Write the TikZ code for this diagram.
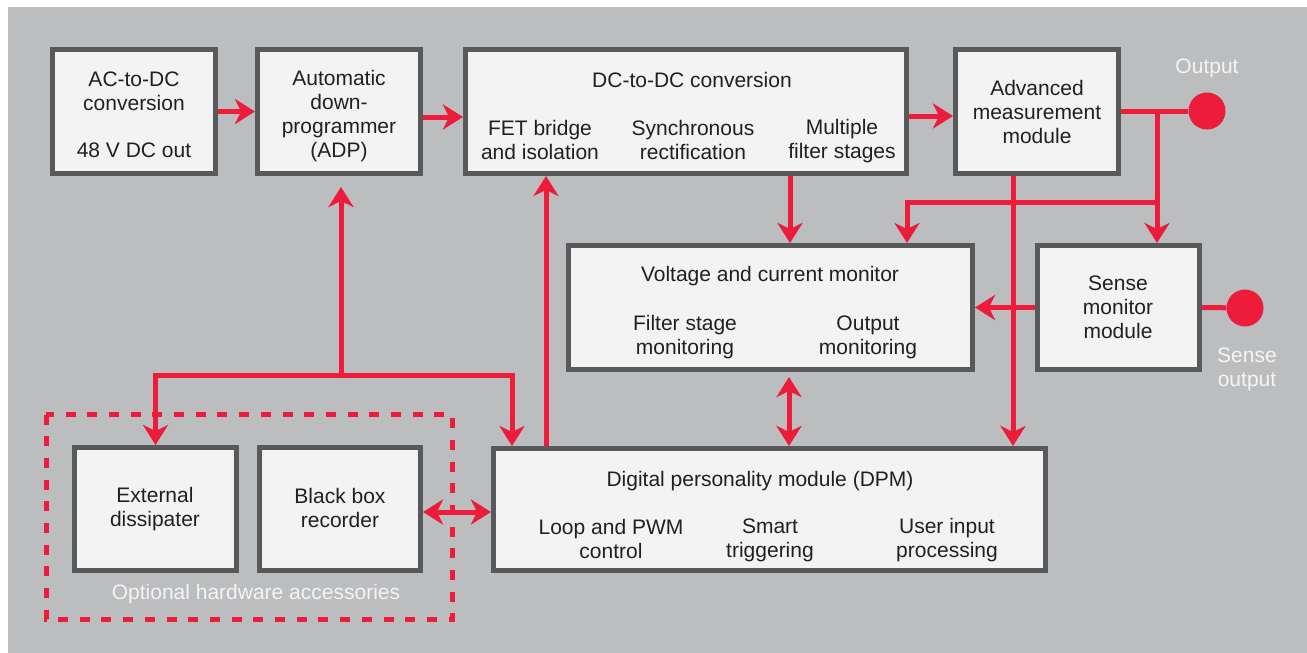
\documentclass[tikz,border=0pt]{standalone}
\usepackage{fontspec}
\setmainfont{Liberation Sans}
\usetikzlibrary{arrows.meta,calc}
\definecolor{bgc}{HTML}{BCBDBF}
\definecolor{boxfill}{HTML}{F2F3F2}
\definecolor{boxline}{HTML}{58595B}
\definecolor{redc}{HTML}{EC1C3A}
\definecolor{txtc}{HTML}{231F20}
\definecolor{lblc}{HTML}{F4F4F4}
\begin{document}
\begin{tikzpicture}[x=1pt,y=-1pt,
  box/.style={draw=boxline, fill=boxfill, line width=5pt, inner sep=0pt, anchor=center},
  txt/.style={text=txtc, font=\fontsize{21}{24}\selectfont, align=center, inner sep=0pt, yshift=-1.5pt},
  lbl/.style={text=lblc, font=\fontsize{21}{24}\selectfont, align=center, inner sep=0pt, yshift=-1.5pt},
  wire/.style={draw=redc, line width=5pt},
  tipa/.tip={Stealth[length=20pt,width=25pt,inset=6pt]},
  arr/.style={wire, -tipa},
  darr/.style={wire, tipa-tipa},
  dot/.style={circle, fill=redc, minimum size=37pt, inner sep=0pt},
]
\useasboundingbox (0,0) rectangle (1307,653);
\fill[bgc] (8,7) rectangle (1307,653);

% boxes
\node[box, minimum width=163pt, minimum height=124pt] (acdc) at (134,111.5) {};
\node[box, minimum width=163pt, minimum height=124pt] (adp) at (339,111.5) {};
\node[box, minimum width=441pt, minimum height=124pt] (dcdc) at (686,111.5) {};
\node[box, minimum width=163pt, minimum height=124pt] (amm) at (1037,111.5) {};
\node[box, minimum width=404pt, minimum height=124pt] (vcm) at (770.5,307.5) {};
\node[box, minimum width=162pt, minimum height=124pt] (smm) at (1118.5,307.5) {};
\node[box, minimum width=552pt, minimum height=122pt] (dpm) at (769.5,509.5) {};
\node[box, minimum width=162pt, minimum height=123pt] (ext) at (155.5,509) {};
\node[box, minimum width=161pt, minimum height=123pt] (bbr) at (340,509) {};

% dashed group
\draw[redc, line width=5pt, dash pattern=on 10pt off 11.7pt] (46,414.5) rectangle (452.5,619.5);

% output dots
\node[dot] (out) at (1207,111) {};
\node[dot] (sout) at (1245,308) {};

% coordinates
\coordinate (cA) at (1157,111);
\coordinate (cB) at (1157,202);
\coordinate (cC) at (907,202);
\coordinate (cT) at (341,375);
\coordinate (cR) at (512,375);
\coordinate (x790) at (790,0);
\coordinate (x789) at (789,0);
\coordinate (x1013) at (1013,0);
\coordinate (x546) at (546,0);
\coordinate (y117) at (0,117);
\coordinate (y116) at (0,116);
\coordinate (y512) at (0,512);

% connectors
\draw[arr] (acdc.east) -- (adp.west);
\draw[arr] (adp.east |- y117) -- (dcdc.west |- y117);
\draw[arr] (dcdc.east |- y116) -- (amm.west |- y116);
\draw[wire] (amm.east |- out) -- (out);
\draw[arr] (cA) -- (smm.north -| cA);
\draw[arr] (cB) -- (cC) -- (vcm.north -| cC);
\draw[arr] (dcdc.south -| x790) -- (vcm.north -| x790);
\draw[arr] (amm.south -| x1013) -- (dpm.north -| x1013);
\draw[arr] (smm.west) -- (vcm.east);
\draw[wire] (smm.east) -- (sout);
\draw[darr, shorten <=5pt] (vcm.south -| x789) -- (dpm.north -| x789);
\draw[arr] (dpm.north -| x546) -- (dcdc.south -| x546);
\draw[arr, shorten >=11pt] (cT) -- (adp.south -| cT);
\draw[arr] (cT) -| (ext.north);
\draw[arr] (cT) -- (cR) -- (dpm.north -| cR);
\draw[darr] (bbr.east |- y512) -- (dpm.west |- y512);

% texts
\node[txt] (t1) at (134,89.5) {AC-to-DC\\conversion};
\node[txt] (t2) at (134,149) {48 V DC out};
\node[txt] (t3) at (339,114.5) {Automatic\\down-\\programmer\\(ADP)};
\node[txt] (t4) at (692,78) {DC-to-DC conversion};
\node[txt] (t5) at (540,138) {FET bridge\\and isolation};
\node[txt] (t6) at (693,138) {Synchronous\\rectification};
\node[txt] (t7) at (842,140) {Multiple\\filter stages};
\node[txt] (t8) at (1037,110) {Advanced\\measurement\\module};
\node[txt] (t9) at (770,275) {Voltage and current monitor};
\node[txt] (t10) at (685,336) {Filter stage\\monitoring};
\node[txt] (t11) at (868,336) {Output\\monitoring};
\node[txt] (t12) at (1118,305.5) {Sense\\monitor\\module};
\node[txt] (t13) at (760,480) {Digital personality module (DPM)};
\node[txt] (t14) at (611,537) {Loop and PWM\\control};
\node[txt] (t15) at (770,539) {Smart\\triggering};
\node[txt] (t16) at (947,539) {User input\\processing};
\node[txt] (t17) at (155,508) {External\\dissipater};
\node[txt] (t18) at (340,506) {Black box\\recorder};
\node[lbl] (l1) at (1207,67) {Output};
\node[lbl] (l2) at (1247,368) {Sense\\output};
\node[lbl] (l3) at (256,593) {Optional hardware accessories};
\end{tikzpicture}
\end{document}
